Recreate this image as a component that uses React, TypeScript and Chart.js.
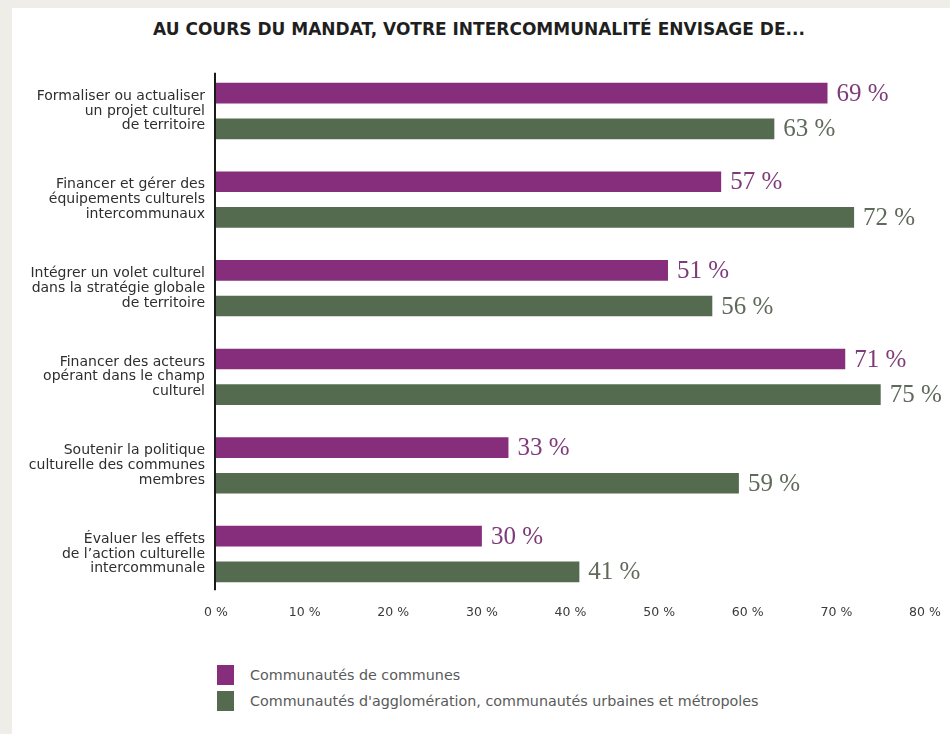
import React, { useEffect, useRef } from "react";
import { Chart, registerables } from "chart.js";

Chart.register(...registerables);

const categories: string[][] = [
  ["Formaliser ou actualiser", "un projet culturel", "de territoire"],
  ["Financer et gérer des", "équipements culturels", "intercommunaux"],
  ["Intégrer un volet culturel", "dans la stratégie globale", "de territoire"],
  ["Financer des acteurs", "opérant dans le champ", "culturel"],
  ["Soutenir la politique", "culturelle des communes", "membres"],
  ["Évaluer les effets", "de l’action culturelle", "intercommunale"],
];

const communesValues = [69, 57, 51, 71, 33, 30];
const agglomerationValues = [63, 72, 56, 75, 59, 41];

const seriesNames = [
  "Communautés de communes",
  "Communautés d'agglomération, communautés urbaines et métropoles",
];

const xTicks = [0, 10, 20, 30, 40, 50, 60, 70, 80];

const titleText = "AU COURS DU MANDAT, VOTRE INTERCOMMUNALITÉ ENVISAGE DE...";

const PURPLE = "#862e7b";
const GREEN = "#546b4f";
const PURPLE_TXT = "#7e3b79";
const GREEN_TXT = "#5f6a5b";

const valueLabelPlugin = {
  id: "valueLabels",
  afterDatasetsDraw(chart: any) {
    const ctx = chart.ctx;
    ctx.save();
    ctx.font = '25px "Liberation Serif"';
    ctx.textBaseline = "middle";
    ctx.textAlign = "left";
    chart.data.datasets.forEach((ds: any, di: number) => {
      const meta = chart.getDatasetMeta(di);
      ctx.fillStyle = di === 0 ? PURPLE_TXT : GREEN_TXT;
      meta.data.forEach((el: any, i: number) => {
        ctx.fillText(`${ds.data[i]} %`, el.x + 9, el.y + 1);
      });
    });
    ctx.restore();
  },
};

const axisLinePlugin = {
  id: "axisLine",
  afterDatasetsDraw(chart: any) {
    const ctx = chart.ctx;
    const x = chart.scales.x.getPixelForValue(0);
    const { top, bottom } = chart.chartArea;
    ctx.save();
    ctx.strokeStyle = "#1a1a1a";
    ctx.lineWidth = 2;
    ctx.beginPath();
    ctx.moveTo(x - 1, top + 6);
    ctx.lineTo(x - 1, bottom - 8);
    ctx.stroke();
    ctx.restore();
  },
};

function BarChart() {
  const ref = useRef<HTMLCanvasElement | null>(null);
  useEffect(() => {
    if (!ref.current) return;
    const chart = new Chart(ref.current, {
      type: "bar",
      data: {
        labels: categories,
        datasets: [
          {
            label: seriesNames[0],
            data: communesValues,
            backgroundColor: PURPLE,
            categoryPercentage: 0.804,
            barPercentage: 0.58,
          },
          {
            label: seriesNames[1],
            data: agglomerationValues,
            backgroundColor: GREEN,
            categoryPercentage: 0.804,
            barPercentage: 0.58,
          },
        ],
      },
      options: {
        indexAxis: "y",
        animation: false,
        responsive: false,
        maintainAspectRatio: false,
        layout: { padding: { top: 6.7, right: 25, left: 0, bottom: 0 } },
        plugins: {
          legend: { display: false },
          tooltip: { enabled: false },
          title: { display: false },
        },
        scales: {
          x: {
            min: 0,
            max: 80,
            afterFit: (s: any) => {
              s.height = 31.7;
              s.paddingLeft = 0;
              s.paddingRight = 0;
            },
            afterBuildTicks: (s: any) => {
              s.ticks = xTicks.map((v) => ({ value: v }));
            },
            grid: { display: false, drawTicks: false },
            border: { display: false },
            ticks: {
              padding: 7,
              color: "#3a3a3a",
              font: { family: "DejaVu Sans", size: 12.5 },
              callback: (v: any) => `${v} %`,
            },
          },
          y: {
            afterFit: (s: any) => {
              s.width = 204;
              s.paddingTop = 0;
              s.paddingBottom = 0;
            },
            grid: { display: false, drawTicks: false },
            border: { display: false },
            ticks: {
              padding: 11,
              color: "#2e2e2e",
              font: { family: "DejaVu Sans", size: 14, lineHeight: "14.8px" },
            },
          },
        },
      },
      plugins: [valueLabelPlugin, axisLinePlugin],
    });
    return () => chart.destroy();
  }, []);
  return (
    <canvas
      ref={ref}
      width={938}
      height={570}
      style={{ position: "absolute", left: 12, top: 60, width: 938, height: 570 }}
    />
  );
}

export default function App() {
  const legendColors = [PURPLE, GREEN];
  return (
    <div
      style={{
        position: "fixed",
        left: 0,
        top: 0,
        width: 950,
        height: 734,
        background: "#efede7",
        overflow: "hidden",
      }}
    >
      <div
        style={{
          position: "absolute",
          left: 12,
          top: 8,
          width: 938,
          height: 726,
          background: "#ffffff",
        }}
      />
      <div
        style={{
          position: "absolute",
          left: 0,
          top: 19,
          width: 958,
          textAlign: "center",
          fontFamily: "DejaVu Sans",
          fontWeight: 700,
          fontSize: 17,
          color: "#1f1f1f",
          whiteSpace: "nowrap",
        }}
      >
        {titleText}
      </div>
      <BarChart />
      {seriesNames.map((name, i) => (
        <div
          key={name}
          style={{
            position: "absolute",
            left: 217,
            top: 665 + i * 25.5,
            height: 20,
            display: "flex",
            alignItems: "center",
            fontFamily: "DejaVu Sans",
            fontSize: 14.3,
            color: "#5a5a5a",
            whiteSpace: "nowrap",
          }}
        >
          <span
            style={{
              display: "inline-block",
              width: 17,
              height: 20,
              background: legendColors[i],
              marginRight: 16,
            }}
          />
          {name}
        </div>
      ))}
    </div>
  );
}
